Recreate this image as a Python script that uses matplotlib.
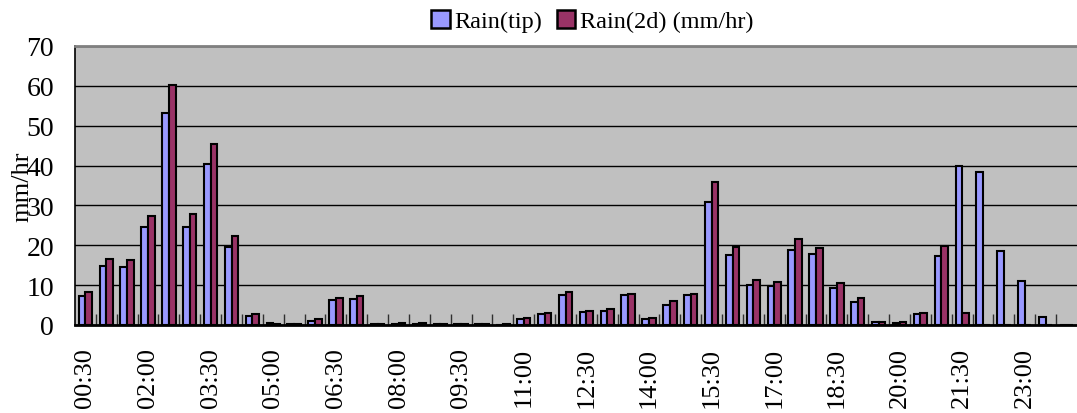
import numpy as np
import matplotlib.pyplot as plt
from matplotlib.patches import Patch

# half-hourly slots 00:30 .. 24:00
times = ["%02d:%02d" % divmod(30 * (i + 1), 60) for i in range(48)]

rain_tip = [7.3, 14.7, 14.5, 24.6, 53.3, 24.6, 40.4, 19.5, 2.3, 0.4,
            0.2, 0.9, 6.3, 6.5, 0.2, 0.2, 0.2, 0.2, 0.2, 0.3,
            0.1, 1.5, 2.7, 7.5, 3.2, 3.6, 7.4, 1.5, 5.1, 7.6,
            30.9, 17.5, 10.1, 9.9, 18.9, 17.7, 9.4, 5.7, 0.8, 0.5,
            2.8, 17.4, 39.8, 38.5, 18.5, 11.0, 2.0, 0.0]
rain_2d = [8.2, 16.5, 16.4, 27.4, 60.3, 27.9, 45.4, 22.3, 2.8, 0.3,
           0.2, 1.4, 6.7, 7.3, 0.2, 0.5, 0.4, 0.2, 0.2, 0.3,
           0.3, 1.8, 3.1, 8.2, 3.6, 4.0, 7.8, 1.8, 6.0, 7.8,
           35.9, 19.6, 11.3, 10.9, 21.6, 19.4, 10.5, 6.7, 0.7, 0.8,
           3.1, 19.7, 2.9, 0.0, 0.0, 0.0, 0.0, 0.0]

plt.rcParams['font.family'] = ['Liberation Serif', 'DejaVu Serif']

fig = plt.figure(figsize=(10.77, 4.14), dpi=100)
ax = fig.add_axes([0.0696, 0.2126, 0.9304, 0.674])
ax.set_facecolor('#C0C0C0')

x = np.arange(len(times))
w = 0.32
ax.bar(x + 0.5 - w, rain_tip, w, align='edge', color='#9999FF',
       edgecolor='black', linewidth=1.5, zorder=3)
ax.bar(x + 0.5, rain_2d, w, align='edge', color='#993366',
       edgecolor='black', linewidth=1.5, zorder=3)

ax.set_xlim(0, len(times))
ax.set_ylim(0, 70)
ax.set_yticks(range(0, 71, 10))
ax.yaxis.grid(True, color='black', linewidth=1, zorder=1)
ax.set_axisbelow(True)

ax.set_xticks(x[::3] + 0.5)
ax.set_xticklabels(times[::3], rotation=90, fontsize=19)
ax.set_xticks(np.arange(1, len(times)), minor=True)
ax.tick_params(axis='x', which='major', length=0, pad=16)
ax.tick_params(axis='x', which='minor', direction='in', length=8, width=1,
               color='#303030')
ax.tick_params(axis='y', direction='in', length=0, labelsize=20, pad=15)

ax.spines['right'].set_visible(False)
ax.spines['top'].set_color('#808080')
ax.spines['top'].set_linewidth(2)
ax.spines['left'].set_linewidth(1.2)
ax.spines['bottom'].set_linewidth(2)

fig.text(0.021, 0.548, 'mm/hr', rotation=90, ha='center', va='center',
         fontsize=19)

handles = [Patch(facecolor='#9999FF', edgecolor='black', linewidth=1.8),
           Patch(facecolor='#993366', edgecolor='black', linewidth=1.8)]
fig.legend(handles, ['Rain(tip)', 'Rain(2d) (mm/hr)'], loc='center',
           bbox_to_anchor=(0.55, 0.947), ncol=2, frameon=False, fontsize=17.5,
           handlelength=0.75, handleheight=0.75, handletextpad=0.2,
           columnspacing=0.6, borderpad=0)

fig.savefig('out.png', dpi=100)
